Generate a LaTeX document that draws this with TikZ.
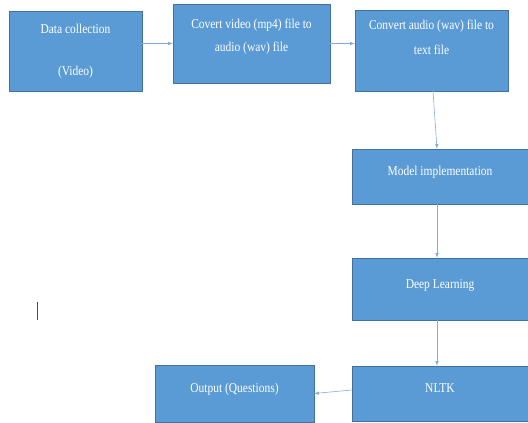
\documentclass[tikz,border=0pt]{standalone}
\usepackage{fontspec}
\setmainfont{Liberation Serif}[FakeStretch=0.85]
\definecolor{boxfill}{HTML}{5B9BD5}
\definecolor{boxline}{HTML}{41719C}
\definecolor{flowline}{HTML}{86ABD8}
\tikzset{
  stage/.style={draw=boxline, fill=boxfill, text=white, align=center, inner sep=0pt,
    font=\fontsize{13.5}{23}\selectfont},
  oneline/.style={text height=10pt, text depth=12pt},
  flow/.style={-latex, flowline, semithick}
}

\begin{document}
\begin{tikzpicture}[x=1pt,y=-1pt]
    \useasboundingbox (0,0) rectangle (528,423);
    % Top row
    \node[stage, minimum width=133, minimum height=80] (data) at (75.5,51) {Data collection\\[19pt](Video)};
    \node[stage, minimum width=157, minimum height=79, text depth=17pt] (mp4wav) at (251.5,43.5) {Covert video (mp4) file to\\audio (wav) file};
    \node[stage, minimum width=153, minimum height=81, text depth=26pt] (wavtext) at (431.5,50.5) {Convert audio (wav) file to\\[2pt]text file};
    % Right column
    \node[stage, oneline, minimum width=176, minimum height=55] (model) at (440,176.5) {Model implementation};
    \node[stage, oneline, minimum width=176, minimum height=62] (deep) at (440,289) {Deep Learning};
    \node[stage, oneline, minimum width=176, minimum height=55] (nltk) at (440,393.5) {NLTK};
    % Bottom
    \node[stage, oneline, minimum width=159, minimum height=57] (output) at (234.5,393.5) {Output (Questions)};
    % Arrows
    \draw[flow] (data.east |- mp4wav.west) -- (mp4wav.west);
    \draw[flow] (mp4wav.east) -- (mp4wav.east -| wavtext.west);
    \draw[flow] ([xshift=1.5]wavtext.south) -- ([xshift=-3]model.north);
    \draw[flow] ([xshift=-3]model.south) -- ([xshift=-3]deep.north);
    \draw[flow] ([xshift=-3]deep.south) -- ([xshift=-3]nltk.north);
    \draw[flow] ([yshift=3.5]nltk.west) -- (output.east);
    % Cursor
    \draw[black!70, thin] (37,302) -- (37,320);
\end{tikzpicture}
\end{document}
